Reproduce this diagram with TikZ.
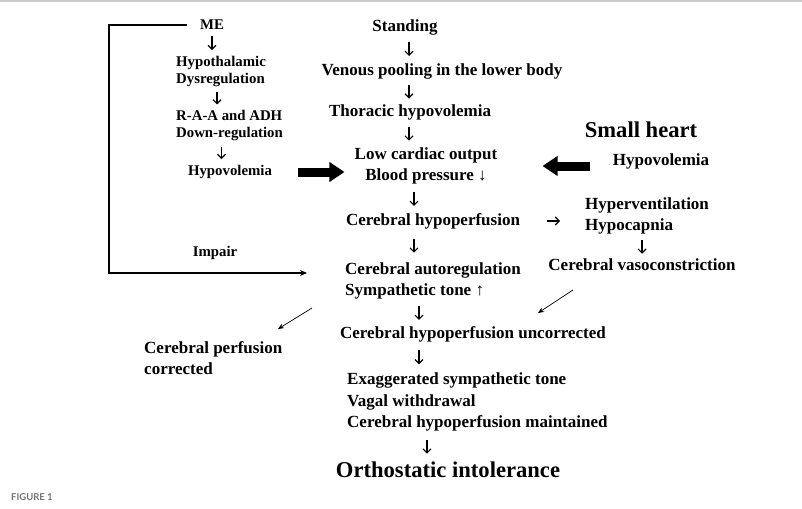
\documentclass[tikz,border=0pt]{standalone}
\usepackage{fontspec}
\setmainfont{Liberation Serif}
\newfontfamily\capfont{Lato}
\usetikzlibrary{arrows.meta,calc}

\tikzset{
	txt/.style={inner sep=1pt,font=\fontsize{17}{21.5}\selectfont\bfseries,align=center},
	side/.style={inner sep=1pt,font=\fontsize{14.8}{17}\selectfont\bfseries,align=left},
	big/.style={inner sep=1pt,font=\fontsize{22.6}{26}\selectfont\bfseries},
	flow/.style={-{Straight Barb[length=4pt,width=8pt]},line width=1.1pt,
		to path={($(\tikztostart)!.5!(\tikztotarget)+(0,-#1)$) -- ($(\tikztostart)!.5!(\tikztotarget)+(0,#1)$)}},
	flow/.default=7,
	hop/.style={-{Straight Barb[length=4pt,width=8pt]},line width=1.1pt},
	fat/.style={-{Triangle[length=15pt,width=19pt]},line width=9pt},
	slant/.style={-{Stealth[length=6pt,width=5pt]},line width=0.7pt},
}

\begin{document}
\begin{tikzpicture}[x=1pt,y=-1pt]
			\useasboundingbox (0,0) rectangle (802,508);
			\draw[black!20,line width=2pt] (0,1.5) -- (802,1.5);

			% left column
			\node[side] (me) at (212,25) {ME};
			\node[side,anchor=west] (hypo) at (175,71.5) {Hypothalamic\\Dysregulation};
			\node[side,anchor=west] (raa) at (175,125.5) {R-A-A and ADH\\Down-regulation};
			\node[side] (hvl) at (230,172) {Hypovolemia};
			\node[side] (impair) at (215,253) {Impair};
			\node[txt,align=left,anchor=west] (cperf) at (143,358) {Cerebral perfusion\\corrected};

			% main column
			\node[txt] (stand) at (405,27) {Standing};
			\node[txt] (venous) at (442,71) {Venous pooling in the lower body};
			\node[txt] (thor) at (410,112) {Thoracic hypovolemia};
			\node[txt] (lco) at (426,166) {Low cardiac output\\Blood pressure ↓};
			\node[txt] (cerhyp) at (433,221) {Cerebral hypoperfusion};
			\node[txt,align=left,anchor=west] (autoreg) at (344,281) {Cerebral autoregulation\\Sympathetic tone ↑};
			\node[txt] (uncorr) at (473,334) {Cerebral hypoperfusion uncorrected};
			\node[txt,align=left,anchor=west] (exag) at (346,402) {Exaggerated sympathetic tone\\Vagal withdrawal\\Cerebral hypoperfusion maintained};
			\node[big] (orth) at (448,470) {Orthostatic intolerance};

			% right column
			\node[big] (small) at (641,130) {Small heart};
			\node[txt] (hvr) at (661,161) {Hypovolemia};
			\node[txt,align=left,anchor=west] (hyperv) at (584,216) {Hyperventilation\\Hypocapnia};
			\node[txt] (vaso) at (642,265) {Cerebral vasoconstriction};

			\node[font=\capfont\fontsize{9.5}{11}\selectfont\bfseries,text=black!55,anchor=west,inner sep=0pt] (fig) at (11,497) {FIGURE 1};

			\coordinate (spine) at (409,0);
			\coordinate (bend) at (109,273);
			\coordinate (ca) at (312,308);
			\coordinate (cb) at (278,329);
			\coordinate (va) at (573,290);
			\coordinate (vb) at (538,313);

			\path [flow] (me.south) edge (me.south |- hypo.north);
			\path [flow=6] ([xshift=-4pt]hypo.south) edge ([xshift=-4pt]hypo.south |- raa.north);
			\path [flow=6] ([xshift=-8pt]raa.south) edge ([xshift=-8pt]raa.south |- hvl.north);
			\path [flow] (spine |- stand.south) edge (spine |- venous.north);
			\path [flow] (spine |- venous.south) edge (spine |- thor.north);
			\path [flow] (spine |- thor.south) edge (spine |- lco.north);
			\path [flow] ([xshift=5pt]spine |- lco.south) edge ([xshift=5pt]spine |- cerhyp.north);
			\path [flow] ([xshift=5pt]spine |- cerhyp.south) edge ([xshift=5pt]spine |- autoreg.north);
			\path [flow] ([xshift=10pt]spine |- autoreg.south) edge ([xshift=10pt]spine |- uncorr.north);
			\path [flow] ([xshift=10pt]spine |- uncorr.south) edge ([xshift=10pt]spine |- exag.north);
			\path [flow] ([xshift=18pt]spine |- exag.south) edge ([xshift=18pt]spine |- orth.north);
			\path [flow] (vaso.north |- hyperv.south) edge (vaso.north);
			\path [hop,shorten <=26pt,shorten >=24pt] (cerhyp.east) edge (cerhyp.east -| hyperv.west);

			\path [fat,shorten <=25pt,shorten >=9pt] (hvl.east) edge (lco.west |- hvl.east);
			\path [fat,shorten <=22pt,shorten >=44pt] (hvr.west |- lco.east) edge (lco.east);

			\draw [-{Stealth[length=7pt,width=6pt]},line width=1.8pt,shorten <=12pt,shorten >=37pt] (me.west) -| (bend) -- (bend -| autoreg.west);
			\draw [slant] (ca) -- (cb);
			\draw [slant] (va) -- (vb);
		\end{tikzpicture}
\end{document}
